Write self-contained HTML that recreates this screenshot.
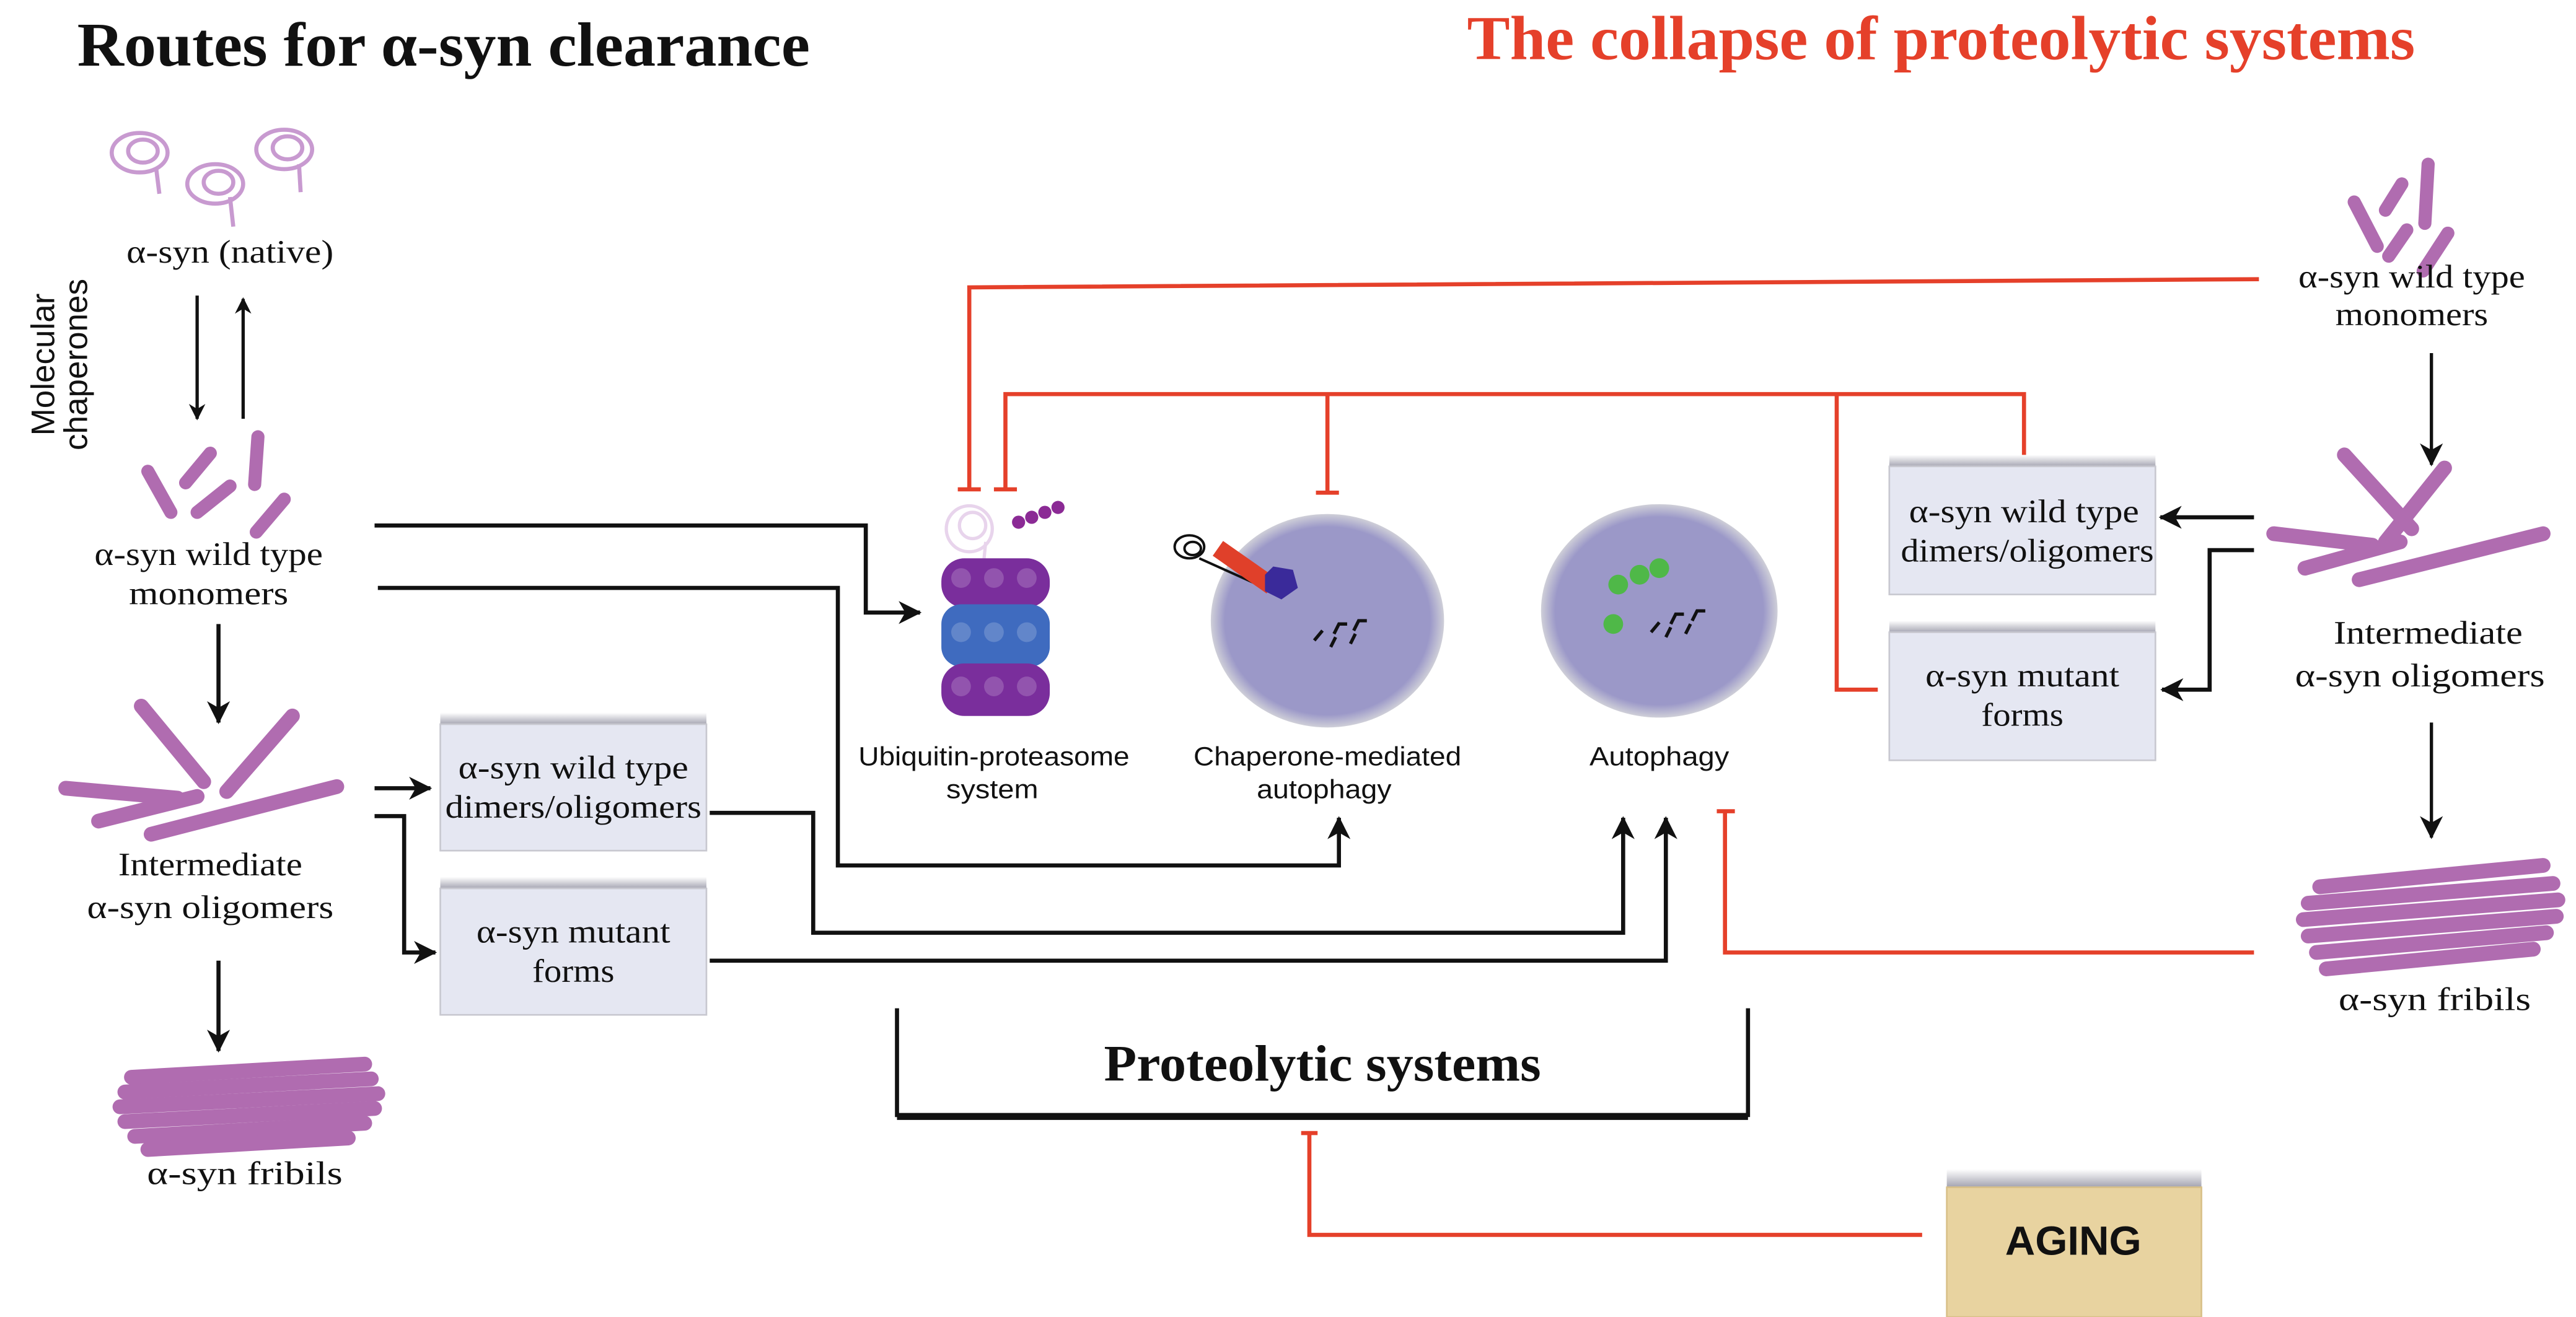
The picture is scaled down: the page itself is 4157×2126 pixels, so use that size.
<!DOCTYPE html>
<html><head><meta charset="utf-8"><style>
html,body{margin:0;padding:0;background:#fff}
svg{display:block}
.s{font-family:"Liberation Serif",serif;fill:#111}
.a{font-family:"Liberation Sans",sans-serif;fill:#111}
</style></head><body>
<svg width="4157" height="2126" viewBox="0 0 1568 802" preserveAspectRatio="none" xmlns="http://www.w3.org/2000/svg">
<defs>
<marker id="ar" markerWidth="10" markerHeight="10" refX="9" refY="5" orient="auto" markerUnits="userSpaceOnUse"><path d="M0,0 L10,5 L0,10 L3,5z" fill="#111"/></marker>
<marker id="ar2" markerWidth="14" markerHeight="14" refX="13" refY="7" orient="auto" markerUnits="userSpaceOnUse"><path d="M0,0 L14,7 L0,14 L4,7z" fill="#111"/></marker>
<linearGradient id="sh" x1="0" y1="0" x2="0" y2="1"><stop offset="0" stop-color="#fff"/><stop offset="1" stop-color="#9a9aa8"/></linearGradient>
<radialGradient id="ce" cx="0.5" cy="0.5" r="0.5"><stop offset="0.88" stop-color="#9b98c8"/><stop offset="1" stop-color="#cfcfd8"/></radialGradient>
</defs>
<rect width="1568" height="802" fill="#fff"/>
<text x="47" y="40" class="s" font-size="38" font-weight="bold" textLength="446" lengthAdjust="spacingAndGlyphs">Routes for α-syn clearance</text>
<text x="893" y="36" class="s" font-size="38" font-weight="bold" style="fill:#e5402a" textLength="577" lengthAdjust="spacingAndGlyphs">The collapse of proteolytic systems</text>

<g fill="none" stroke="#c89ad0" stroke-width="2.5">
<ellipse cx="85" cy="93" rx="17" ry="12"/><ellipse cx="87" cy="92" rx="9" ry="7"/><path d="M95 102 L97 118"/>
<ellipse cx="131" cy="112" rx="17" ry="12"/><ellipse cx="133" cy="111" rx="9" ry="7"/><path d="M140 120 L142 138"/>
<ellipse cx="173" cy="91" rx="17" ry="12"/><ellipse cx="175" cy="90" rx="9" ry="7"/><path d="M182 100 L183 117"/>
</g>
<text x="140" y="160" class="s" font-size="20" text-anchor="middle" textLength="126" lengthAdjust="spacingAndGlyphs">α-syn (native)</text>
<line x1="120" y1="180" x2="120" y2="255" stroke="#111" stroke-width="2" marker-end="url(#ar)"/>
<line x1="148" y1="255" x2="148" y2="182" stroke="#111" stroke-width="2" marker-end="url(#ar)"/>
<text transform="translate(33,222) rotate(-90)" class="a" font-size="20" text-anchor="middle">Molecular</text>
<text transform="translate(53,222) rotate(-90)" class="a" font-size="20" text-anchor="middle">chaperones</text>

<g stroke="#b06cb0" stroke-width="8" stroke-linecap="round">
<line x1="90" y1="287" x2="104" y2="312"/><line x1="113" y1="294" x2="128" y2="276"/><line x1="120" y1="312" x2="140" y2="296"/><line x1="157" y1="266" x2="155" y2="295"/><line x1="173" y1="304" x2="156" y2="324"/>
</g>
<text x="127" y="344" class="s" font-size="20" text-anchor="middle" textLength="139" lengthAdjust="spacingAndGlyphs">α-syn wild type</text>
<text x="127" y="368" class="s" font-size="20" text-anchor="middle" textLength="97" lengthAdjust="spacingAndGlyphs">monomers</text>
<line x1="133" y1="380" x2="133" y2="440" stroke="#111" stroke-width="2.5" marker-end="url(#ar2)"/>
<g stroke="#b06cb0" stroke-width="9" stroke-linecap="round">
<line x1="86" y1="430" x2="124" y2="476"/><line x1="178" y1="436" x2="138" y2="482"/><line x1="40" y1="480" x2="108" y2="486"/><line x1="60" y1="500" x2="120" y2="485"/><line x1="92" y1="508" x2="205" y2="479"/>
</g>
<text x="128" y="533" class="s" font-size="20" text-anchor="middle" textLength="112" lengthAdjust="spacingAndGlyphs">Intermediate</text>
<text x="128" y="559" class="s" font-size="20" text-anchor="middle" textLength="150" lengthAdjust="spacingAndGlyphs">α-syn oligomers</text>
<line x1="133" y1="585" x2="133" y2="640" stroke="#111" stroke-width="2.5" marker-end="url(#ar2)"/>
<g stroke="#b06cb0" stroke-width="9" stroke-linecap="round">
<line x1="80" y1="656" x2="222" y2="648"/><line x1="76" y1="665" x2="226" y2="657"/><line x1="73" y1="674" x2="230" y2="666"/><line x1="76" y1="683" x2="228" y2="675"/><line x1="82" y1="692" x2="222" y2="684"/><line x1="90" y1="700" x2="212" y2="693"/>
</g>
<text x="149" y="721" class="s" font-size="20" text-anchor="middle" textLength="119" lengthAdjust="spacingAndGlyphs">α-syn fribils</text>

<rect x="268" y="434" width="162" height="8" fill="url(#sh)"/>
<rect x="268" y="441" width="162" height="77" fill="#e5e7f2" stroke="#c8c8d0"/>
<text x="349" y="474" class="s" font-size="20" text-anchor="middle" textLength="140" lengthAdjust="spacingAndGlyphs">α-syn wild type</text>
<text x="349" y="498" class="s" font-size="20" text-anchor="middle" textLength="156" lengthAdjust="spacingAndGlyphs">dimers/oligomers</text>
<rect x="268" y="534" width="162" height="8" fill="url(#sh)"/>
<rect x="268" y="541" width="162" height="77" fill="#e5e7f2" stroke="#c8c8d0"/>
<text x="349" y="574" class="s" font-size="20" text-anchor="middle" textLength="118" lengthAdjust="spacingAndGlyphs">α-syn mutant</text>
<text x="349" y="598" class="s" font-size="20" text-anchor="middle" textLength="50" lengthAdjust="spacingAndGlyphs">forms</text>

<g fill="none" stroke="#111" stroke-width="2.5">
<line x1="228" y1="480" x2="262" y2="480" marker-end="url(#ar2)"/>
<polyline points="228,497 246,497 246,580 265,580" marker-end="url(#ar2)"/>
<polyline points="228,320 527,320 527,373 560,373" marker-end="url(#ar2)"/>
<polyline points="230,358 510,358 510,527 815,527 815,498" marker-end="url(#ar2)"/>
<polyline points="432,495 495,495 495,568 988,568 988,498" marker-end="url(#ar2)"/>
<polyline points="432,585 1014,585 1014,498" marker-end="url(#ar2)"/>
</g>

<g fill="none" stroke="#e8d4ec" stroke-width="2"><circle cx="590" cy="322" r="14"/><circle cx="592" cy="320" r="8"/><path d="M600 330 L598 350"/></g>
<g fill="#8b2a95"><circle cx="620" cy="318" r="4"/><circle cx="628" cy="315" r="4"/><circle cx="636" cy="312" r="4"/><circle cx="644" cy="309" r="4"/></g>
<rect x="573" y="340" width="66" height="30" rx="14" fill="#7a2e9c"/>
<rect x="573" y="368" width="66" height="38" rx="12" fill="#3f6bbf"/>
<rect x="573" y="404" width="66" height="32" rx="14" fill="#7a2e9c"/>
<g fill="#fff" opacity="0.18"><circle cx="585" cy="352" r="6"/><circle cx="605" cy="352" r="6"/><circle cx="625" cy="352" r="6"/><circle cx="585" cy="385" r="6"/><circle cx="605" cy="385" r="6"/><circle cx="625" cy="385" r="6"/><circle cx="585" cy="418" r="6"/><circle cx="605" cy="418" r="6"/><circle cx="625" cy="418" r="6"/></g>
<text x="605" y="466" class="a" font-size="16" text-anchor="middle" textLength="165" lengthAdjust="spacingAndGlyphs">Ubiquitin-proteasome</text>
<text x="604" y="486" class="a" font-size="16" text-anchor="middle" textLength="56" lengthAdjust="spacingAndGlyphs">system</text>

<ellipse cx="808" cy="378" rx="71" ry="65" fill="url(#ce)"/>
<g fill="none" stroke="#111" stroke-width="1.5"><ellipse cx="724" cy="333" rx="9" ry="7"/><ellipse cx="726" cy="334" rx="5" ry="4"/><path d="M730 340 L770 358"/></g>
<rect x="738" y="340" width="40" height="11" fill="#e0402a" transform="rotate(35 758 345)"/>
<polygon points="775,345 787,347 790,358 780,365 770,360 770,350" fill="#3a2a9a"/>
<g stroke="#111" stroke-width="2" fill="none"><path d="M800 390 l5 -6 M812 386 l3 -6 h5 M824 384 l3 -6 h5 M810 394 l3 -6 M822 392 l3 -6"/></g>
<text x="808" y="466" class="a" font-size="16" text-anchor="middle" textLength="163" lengthAdjust="spacingAndGlyphs">Chaperone-mediated</text>
<text x="806" y="486" class="a" font-size="16" text-anchor="middle" textLength="82" lengthAdjust="spacingAndGlyphs">autophagy</text>

<ellipse cx="1010" cy="372" rx="72" ry="65" fill="url(#ce)"/>
<g fill="#4fb848"><circle cx="985" cy="356" r="6"/><circle cx="998" cy="350" r="6"/><circle cx="1010" cy="346" r="6"/><circle cx="982" cy="380" r="6"/></g>
<g stroke="#111" stroke-width="2" fill="none"><path d="M1005 385 l5 -6 M1017 380 l3 -6 h5 M1030 378 l3 -6 h5 M1014 388 l3 -6 M1026 386 l3 -6"/></g>
<text x="1010" y="466" class="a" font-size="16" text-anchor="middle" textLength="85" lengthAdjust="spacingAndGlyphs">Autophagy</text>

<g fill="none" stroke="#e5402a" stroke-width="2.5">
<polyline points="1375,170 590,175 590,298"/>
<line x1="583" y1="298" x2="597" y2="298"/>
<polyline points="612,298 612,240 1232,240 1232,283"/>
<line x1="605" y1="298" x2="619" y2="298"/>
<line x1="808" y1="240" x2="808" y2="300"/>
<line x1="801" y1="300" x2="815" y2="300"/>
<polyline points="1118,240 1118,420 1143,420"/>
<polyline points="1372,580 1050,580 1050,494"/>
<line x1="1045" y1="494" x2="1056" y2="494"/>
<polyline points="1170,752 797,752 797,690"/>
<line x1="792" y1="690" x2="802" y2="690"/>
</g>

<rect x="1150" y="277" width="162" height="8" fill="url(#sh)"/>
<rect x="1150" y="284" width="162" height="78" fill="#e5e7f2" stroke="#c8c8d0"/>
<text x="1232" y="318" class="s" font-size="20" text-anchor="middle" textLength="140" lengthAdjust="spacingAndGlyphs">α-syn wild type</text>
<text x="1234" y="342" class="s" font-size="20" text-anchor="middle" textLength="154" lengthAdjust="spacingAndGlyphs">dimers/oligomers</text>
<rect x="1150" y="378" width="162" height="8" fill="url(#sh)"/>
<rect x="1150" y="385" width="162" height="78" fill="#e5e7f2" stroke="#c8c8d0"/>
<text x="1231" y="418" class="s" font-size="20" text-anchor="middle" textLength="118" lengthAdjust="spacingAndGlyphs">α-syn mutant</text>
<text x="1231" y="442" class="s" font-size="20" text-anchor="middle" textLength="50" lengthAdjust="spacingAndGlyphs">forms</text>

<g stroke="#b06cb0" stroke-width="8" stroke-linecap="round">
<line x1="1433" y1="123" x2="1447" y2="150"/><line x1="1452" y1="128" x2="1462" y2="112"/><line x1="1454" y1="156" x2="1465" y2="140"/><line x1="1478" y1="100" x2="1476" y2="136"/><line x1="1490" y1="142" x2="1475" y2="165"/>
</g>
<text x="1468" y="175" class="s" font-size="20" text-anchor="middle" textLength="138" lengthAdjust="spacingAndGlyphs">α-syn wild type</text>
<text x="1468" y="198" class="s" font-size="20" text-anchor="middle" textLength="93" lengthAdjust="spacingAndGlyphs">monomers</text>
<line x1="1480" y1="215" x2="1480" y2="283" stroke="#111" stroke-width="2" marker-end="url(#ar2)"/>
<g stroke="#b06cb0" stroke-width="9" stroke-linecap="round">
<line x1="1427" y1="277" x2="1468" y2="322"/><line x1="1488" y1="285" x2="1452" y2="330"/><line x1="1384" y1="325" x2="1444" y2="332"/><line x1="1403" y1="346" x2="1461" y2="330"/><line x1="1436" y1="353" x2="1548" y2="325"/>
</g>
<text x="1478" y="392" class="s" font-size="20" text-anchor="middle" textLength="115" lengthAdjust="spacingAndGlyphs">Intermediate</text>
<text x="1473" y="418" class="s" font-size="20" text-anchor="middle" textLength="152" lengthAdjust="spacingAndGlyphs">α-syn oligomers</text>
<g fill="none" stroke="#111" stroke-width="2.5">
<line x1="1372" y1="315" x2="1315" y2="315" marker-end="url(#ar2)"/>
<polyline points="1372,335 1345,335 1345,420 1316,420" marker-end="url(#ar2)"/>
</g>
<line x1="1480" y1="440" x2="1480" y2="510" stroke="#111" stroke-width="2" marker-end="url(#ar2)"/>
<g stroke="#b06cb0" stroke-width="9" stroke-linecap="round">
<line x1="1412" y1="540" x2="1548" y2="527"/><line x1="1405" y1="550" x2="1554" y2="538"/><line x1="1402" y1="560" x2="1557" y2="548"/><line x1="1405" y1="570" x2="1556" y2="558"/><line x1="1410" y1="580" x2="1550" y2="568"/><line x1="1416" y1="590" x2="1542" y2="578"/>
</g>
<text x="1482" y="615" class="s" font-size="20" text-anchor="middle" textLength="117" lengthAdjust="spacingAndGlyphs">α-syn fribils</text>

<polyline points="546,614 546,679 1064,679 1064,614" fill="none" stroke="#111" stroke-width="2.5"/>
<line x1="546" y1="680" x2="1064" y2="680" stroke="#111" stroke-width="4"/>
<text x="805" y="658" class="s" font-size="31" font-weight="bold" text-anchor="middle" textLength="266" lengthAdjust="spacingAndGlyphs">Proteolytic systems</text>

<rect x="1185" y="712" width="155" height="12" fill="url(#sh)"/>
<rect x="1185" y="723" width="155" height="79" fill="#e8d3a0" stroke="#d8c088"/>
<text x="1262" y="764" class="a" font-size="25" font-weight="bold" text-anchor="middle" textLength="83" lengthAdjust="spacingAndGlyphs">AGING</text>
</svg>
</body></html>
